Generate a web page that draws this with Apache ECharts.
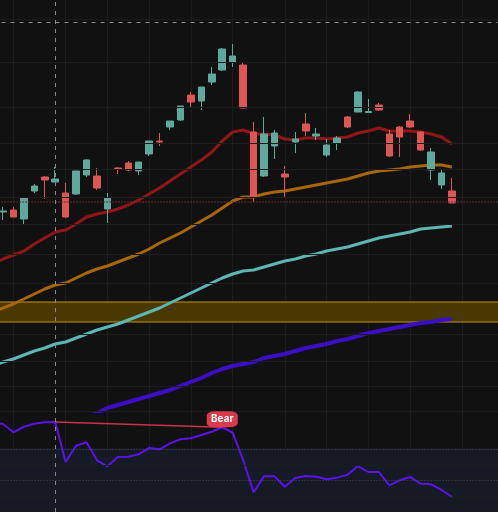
<!DOCTYPE html>
<html>
<head>
<meta charset="utf-8">
<script src="https://cdn.jsdelivr.net/npm/echarts@6/dist/echarts.min.js"></script>
<style>
html, body { margin: 0; padding: 0; background: #111111; overflow: hidden; width: 498px; height: 512px; position: relative; }
#chart { position: absolute; left: -10px; top: 0; width: 515px; height: 512px; }
</style>
</head>
<body>
<div id="chart"></div>
<script>
// trading days (first one is off-screen on the left, last five are empty space on the right)
var dates = ['02-23', '02-26', '02-27', '02-28', '02-29', '03-01', '03-04', '03-05', '03-06', '03-07',
  '03-08', '03-11', '03-12', '03-13', '03-14', '03-15', '03-18', '03-19', '03-20', '03-21',
  '03-22', '03-25', '03-26', '03-27', '03-28', '03-29', '04-01', '04-02', '04-03', '04-04',
  '04-05', '04-08', '04-09', '04-10', '04-11', '04-12', '04-15', '04-16', '04-17', '04-18',
  '04-19', '04-22', '04-23', '04-24', '04-25', '04-26', '04-29', '04-30', '05-01', '05-02'];

// [open, close, low, high]
var candles = ['-',
  [119.9, 120.0, 119.1, 120.4], [120.1, 119.4, 119.4, 120.4], [119.2, 121.3, 118.7, 121.3],
  [122.0, 122.5, 121.8, 122.7], [123.4, 123.1, 121.2, 123.5], [122.9, 123.2, 122.9, 124.4],
  [121.8, 119.4, 119.3, 122.8], [121.7, 124.0, 121.6, 124.0], [123.6, 125.1, 123.4, 125.2],
  [123.5, 122.3, 122.1, 124.3], [120.2, 121.3, 118.8, 121.8], [124.3, 124.2, 123.7, 124.4],
  [124.8, 124.1, 124.0, 125.0], [124.0, 124.9, 123.6, 124.9], [125.7, 127.0, 125.5, 127.0],
  [127.0, 126.9, 126.5, 127.8], [128.4, 129.0, 128.1, 129.0], [129.1, 130.5, 129.0, 130.5],
  [131.6, 130.9, 130.3, 131.9], [131.0, 132.4, 130.1, 132.4], [132.9, 133.7, 132.6, 134.4],
  [134.1, 136.2, 134.0, 136.3], [134.9, 135.5, 134.4, 136.7], [134.6, 130.3, 130.3, 134.8],
  [127.9, 121.4, 120.9, 128.9], [123.5, 127.7, 123.4, 129.4], [126.5, 127.8, 125.2, 128.1],
  [123.7, 123.4, 121.4, 124.5], [126.9, 127.2, 125.8, 127.9], [128.7, 128.0, 127.5, 129.8],
  [127.5, 127.7, 127.1, 128.3], [125.6, 126.6, 125.4, 127.2], [126.8, 127.3, 126.1, 127.5],
  [129.4, 128.4, 128.3, 129.5], [129.9, 131.9, 129.9, 132.0], [129.85, 129.95, 129.8, 131.2],
  [130.6, 130.1, 130.0, 130.8], [127.7, 125.5, 125.4, 128.1], [128.4, 127.4, 125.4, 128.5],
  [129.0, 128.4, 128.3, 129.7], [127.9, 126.1, 126.0, 128.0], [124.1, 125.9, 123.1, 126.3],
  [122.6, 123.8, 122.2, 124.1], [122.0, 120.8, 120.8, 123.3]];

var maFast = [114.7, 115.2, 115.6, 116.0, 116.7, 117.3, 117.9, 118.1, 118.7, 119.4, 119.7,
  119.9, 120.2, 120.6, 121.1, 121.7, 122.3, 123.0, 123.7, 124.4, 125.1, 125.9, 127.0, 127.9,
  128.1, 127.7, 127.7, 127.6, 127.2, 127.1, 127.3, 127.3, 127.2, 127.3, 127.4, 127.8, 128.0,
  128.3, 128.0, 128.0, 128.0, 127.9, 127.7, 127.4, 126.7];
var maMid = [109.9, 110.3, 110.7, 111.2, 111.7, 112.2, 112.6, 112.8, 113.3, 113.8, 114.2,
  114.5, 114.9, 115.3, 115.7, 116.2, 116.8, 117.3, 117.8, 118.4, 119.0, 119.6, 120.3, 121.0,
  121.4, 121.4, 121.7, 121.9, 122.0, 122.2, 122.4, 122.6, 122.8, 123.0, 123.2, 123.5, 123.8,
  124.0, 124.1, 124.2, 124.4, 124.5, 124.6, 124.6, 124.4];
var maSlow = [104.5, 104.9, 105.2, 105.6, 106.0, 106.3, 106.7, 106.9, 107.3, 107.7, 108.1,
  108.4, 108.7, 109.1, 109.5, 109.9, 110.3, 110.8, 111.3, 111.8, 112.3, 112.8, 113.3, 113.7,
  114.0, 114.1, 114.4, 114.7, 115.0, 115.2, 115.5, 115.7, 116.0, 116.2, 116.4, 116.7, 117.0,
  117.3, 117.5, 117.7, 117.9, 118.2, 118.3, 118.4, 118.5];
var maLong = [95.5, 95.9, 96.4, 96.9, 97.4, 97.9, 98.3, 98.7, 99.1, 99.4, 99.8,
  100.3, 100.6, 100.9, 101.2, 101.5, 101.8, 102.1, 102.5, 102.9, 103.3, 103.8, 104.2, 104.5,
  104.7, 104.9, 105.3, 105.5, 105.7, 106.0, 106.3, 106.5, 106.7, 107.0, 107.2, 107.5, 107.8,
  108.0, 108.2, 108.4, 108.6, 108.8, 108.9, 109.1, 109.2];

var osc = [89.0, 87.1, 78.9, 84.4, 87.4, 88.8, 89.1, 49.5, 65.6, 69.0, 51.2, 45.2, 54.5,
  54.8, 57.1, 63.4, 62.1, 68.0, 72.0, 73.0, 76.2, 79.5, 83.9, 78.5, 51.5, 19.5, 35.3, 35.3,
  25.0, 33.7, 35.6, 34.9, 32.4, 34.0, 36.9, 45.5, 39.6, 39.6, 26.4, 31.4, 34.7, 28.0, 27.4,
  21.8, 15.1];

var priceGrid = [139.2, 134.9, 130.4, 126.8, 124.2, 121.4, 118.7, 115.7, 112.8, 107.7, 105.0, 102.5];
var oscGrid = [100, 46.5, 14.9];
var oscLevels = [62.4, 31.7];
var oscZone = [0, 63.4];
var zoneBand = [108.9, 110.9];
var resistance = 138.9;
var support = 120.9;
var gridDays = [2, 7, 11, 15, 19, 23, 28, 32, 36, 40, 45];
var crossDay = 6;
var bearFrom = 6, bearTo = 22;

var chart = echarts.init(document.getElementById('chart'));

var gridLine = { color: '#1d1d1d', width: 1, type: 'solid' };
var crossLine = { color: '#8a8a8a', width: 1, type: [4, 5] };

function xAx(gi) {
  return {
    type: 'category', gridIndex: gi, data: dates, boundaryGap: false,
    axisLine: { show: false }, axisTick: { show: false }, axisLabel: { show: false },
    splitLine: {
      show: true, lineStyle: gridLine,
      interval: function (idx) { return gridDays.indexOf(idx) >= 0; }
    }
  };
}

var option = {
  backgroundColor: '#111111',
  animation: false,
  grid: [
    { left: 2.56, right: 0.88, top: 0, height: 411 },
    { left: 2.56, right: 0.88, top: 411, height: 101 }
  ],
  xAxis: [xAx(0), xAx(1)],
  yAxis: [
    { type: 'value', gridIndex: 0, min: 100, max: 141.1, axisLine: { show: false },
      axisTick: { show: false }, axisLabel: { show: false }, splitLine: { show: false } },
    { type: 'value', gridIndex: 1, min: 0, max: 100, axisLine: { show: false },
      axisTick: { show: false }, axisLabel: { show: false }, splitLine: { show: false } }
  ],
  series: [
    {
      type: 'line', xAxisIndex: 0, yAxisIndex: 0, data: [], z: 1, silent: true,
      markLine: {
        silent: true, symbol: 'none', label: { show: false }, lineStyle: gridLine,
        data: priceGrid.map(function (v) { return { yAxis: v }; })
      },
      markArea: {
        silent: true,
        itemStyle: { color: '#4a3802', borderColor: '#c8930e', borderWidth: 1 },
        data: [[{ yAxis: zoneBand[0] }, { yAxis: zoneBand[1] }]]
      }
    },
    { type: 'line', data: maLong, symbol: 'none', z: 3, lineStyle: { color: '#3b0fc6', width: 4 } },
    { type: 'line', data: maSlow, symbol: 'none', z: 3, lineStyle: { color: '#5db6b1', width: 3 } },
    { type: 'line', data: maMid, symbol: 'none', z: 3, lineStyle: { color: '#a8660a', width: 3 } },
    { type: 'line', data: maFast, symbol: 'none', z: 3, lineStyle: { color: '#911717', width: 3 } },
    {
      type: 'candlestick', data: candles, barWidth: 7, z: 4,
      itemStyle: { color: '#5da99c', color0: '#dc5656', borderColor: '#5da99c', borderColor0: '#dc5656', borderWidth: 1 }
    },
    {
      type: 'line', xAxisIndex: 0, yAxisIndex: 0, data: [], z: 6, silent: true,
      markLine: {
        silent: true, symbol: 'none', label: { show: false },
        data: [
          { yAxis: resistance, lineStyle: crossLine },
          { yAxis: support, lineStyle: { color: '#6e2b2b', width: 2, type: [1, 2] } },
          { xAxis: dates[crossDay], lineStyle: crossLine }
        ]
      }
    },
    {
      type: 'line', xAxisIndex: 1, yAxisIndex: 1, data: [], z: 1, silent: true,
      markArea: {
        silent: true, itemStyle: { color: '#151a25' },
        data: [[{ yAxis: oscZone[0] }, { yAxis: oscZone[1] }]]
      },
      markLine: {
        silent: true, symbol: 'none', label: { show: false },
        data: oscGrid.map(function (v) { return { yAxis: v, lineStyle: gridLine }; }).concat(
          oscLevels.map(function (v) { return { yAxis: v, lineStyle: { color: '#4a4f58', width: 1, type: [1, 2] } }; }))
      }
    },
    {
      type: 'line', xAxisIndex: 1, yAxisIndex: 1, data: osc, symbol: 'none', z: 3,
      lineStyle: { color: '#5c12ee', width: 2 },
      markLine: {
        silent: true, symbol: 'none', label: { show: false },
        lineStyle: { color: '#c8344a', width: 1.5, type: 'solid' },
        data: [[{ coord: [dates[bearFrom], osc[bearFrom]] }, { coord: [dates[bearTo], osc[bearTo]] }]]
      },
      markPoint: {
        silent: true, symbol: 'roundRect', symbolSize: [31, 16], symbolOffset: [0, -8],
        itemStyle: { color: '#d93a4c' },
        label: { show: true, position: 'inside', formatter: 'Bear', color: '#ffffff',
          fontSize: 10, fontWeight: 'bold', fontFamily: 'Inter' },
        data: [{ coord: [dates[bearTo], osc[bearTo]] }]
      }
    },
    {
      type: 'line', xAxisIndex: 1, yAxisIndex: 1, data: [], z: 6, silent: true,
      markLine: {
        silent: true, symbol: 'none', label: { show: false },
        data: [{ xAxis: dates[crossDay], lineStyle: crossLine }]
      }
    }
  ]
};

chart.setOption(option);
</script>
</body>
</html>
